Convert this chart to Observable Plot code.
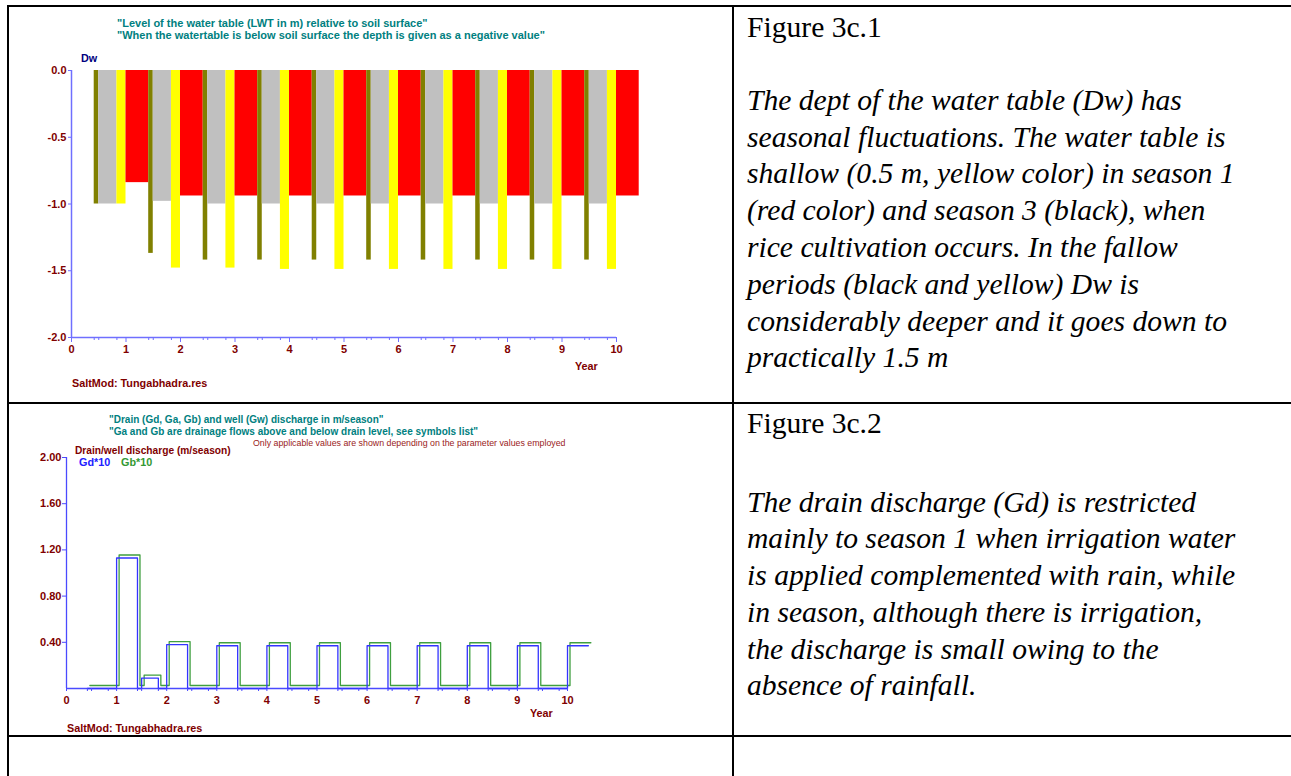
<!DOCTYPE html>
<html><head><meta charset="utf-8">
<script src="https://cdn.jsdelivr.net/npm/d3@7"></script>
<script src="https://cdn.jsdelivr.net/npm/@observablehq/plot@0.6"></script>
<style>
html,body{margin:0;padding:0;background:#fff;}
#page{position:relative;width:1291px;height:776px;overflow:hidden;background:#fff;}
.t{position:absolute;white-space:nowrap;line-height:1;transform:translateY(-50%);z-index:3;}
.lbl{font-family:"Liberation Sans",Arial,sans-serif;font-weight:bold;font-size:10.8px;}
.ttl{font-family:"Liberation Sans",Arial,sans-serif;font-weight:bold;font-size:11px;color:#008080;}
.note{font-family:"Liberation Sans",Arial,sans-serif;font-weight:normal;font-size:8.8px;color:#992222;}
.brd{position:absolute;background:#000;z-index:5;}
.serif{position:absolute;white-space:nowrap;font-family:"Liberation Serif","Times New Roman",serif;color:#000;font-size:29.6px;line-height:36.8px;z-index:3;}
.chart{position:absolute;left:0;width:730px;z-index:1;}
</style></head><body><div id="page"></div>
<script>
// ---------- data ----------
const years = [0, 1, 2, 3, 4, 5, 6, 7, 8, 9, 10];
const seasonMonths = [5, 1, 4, 2];
const seasonNames = ["Season 1", "Season 2", "Season 3", "Season 4"];
const seasonColors = ["#ff0000", "#808000", "#c0c0c0", "#ffff00"];

// Depth of water table Dw (m), per season, per year
const dwSeason1 = [null, -0.84, -0.94, -0.94, -0.94, -0.94, -0.94, -0.94, -0.94, -0.94, -0.94];
const dwSeason2 = [-1.00, -1.37, -1.42, -1.42, -1.42, -1.42, -1.42, -1.42, -1.42, -1.42, null];
const dwSeason3 = [-1.00, -0.98, -1.00, -1.00, -1.00, -1.00, -1.00, -1.00, -1.00, -1.00, null];
const dwSeason4 = [-1.00, -1.48, -1.48, -1.49, -1.49, -1.49, -1.49, -1.49, -1.49, -1.49, null];

// Drain discharge Gd*10 and Gb*10 (m/season), per season, per year
const gdSeason1 = [null, 1.13, 0.38, 0.37, 0.37, 0.37, 0.37, 0.37, 0.37, 0.37, 0.37];
const gdSeason2 = [0, 0, 0, 0, 0, 0, 0, 0, 0, 0, null];
const gdSeason3 = [0, 0.09, 0, 0, 0, 0, 0, 0, 0, 0, null];
const gdSeason4 = [0, 0, 0, 0, 0, 0, 0, 0, 0, 0, null];
const gbSeason1 = [null, 1.13, 0.38, 0.37, 0.37, 0.37, 0.37, 0.37, 0.37, 0.37, 0.37];
const gbSeason2 = [0, 0, 0, 0, 0, 0, 0, 0, 0, 0, null];
const gbSeason3 = [0, 0.09, 0, 0, 0, 0, 0, 0, 0, 0, null];
const gbSeason4 = [0, 0, 0, 0, 0, 0, 0, 0, 0, 0, null];

const yearTicks = [0, 1, 2, 3, 4, 5, 6, 7, 8, 9, 10];
const dwTicks = [0, -0.5, -1.0, -1.5, -2.0];
const gTicks = [0.40, 0.80, 1.20, 1.60, 2.00];

// ---------- derived tables ----------
const cum = [0];
seasonMonths.forEach(m => cum.push(cum[cum.length - 1] + m));
const sStart = cum.slice(0, 4).map(m => m / 12);
const sEnd = cum.slice(1).map(m => m / 12);

function seasonRows(series) {
  const rows = [];
  years.forEach((yr, i) => {
    series.forEach((arr, s) => {
      const v = arr[i];
      if (v !== null && v !== undefined) rows.push({x1: yr + sStart[s], x2: yr + sEnd[s], v, season: seasonNames[s]});
    });
  });
  return rows;
}
const dwRows = seasonRows([dwSeason1, dwSeason2, dwSeason3, dwSeason4]);
function stepPoints(series) {
  const rows = seasonRows(series);
  const pts = rows.map(r => ({t: r.x1, v: r.v}));
  const last = rows[rows.length - 1];
  pts.push({t: last.x2, v: last.v});
  return pts;
}
const gdPts = stepPoints([gdSeason1, gdSeason2, gdSeason3, gdSeason4]);
const gbPts = stepPoints([gbSeason1, gbSeason2, gbSeason3, gbSeason4]);
const minorTicks = [];
years.slice(0, 10).forEach(yr => sStart.slice(1).forEach(s => minorTicks.push(yr + s)));

// ---------- charts ----------
const axis1 = "#6f6fff";
const axis2 = "#4a4aff";
const tickText = "#800000";
const font = {background: "transparent", fontFamily: "'Liberation Sans', Arial, sans-serif", fontSize: "11px", fontWeight: "bold", overflow: "visible"};

const chart1 = Plot.plot({
  width: 730, height: 400,
  marginLeft: 71, marginRight: 114, marginTop: 70, marginBottom: 63,
  style: font,
  x: {domain: [0, 10], label: null},
  y: {domain: [-2, 0], label: null},
  color: {domain: seasonNames, range: seasonColors},
  marks: [
    Plot.rect(dwRows, {x1: "x1", x2: "x2", y1: d => 0, y2: "v", fill: "season"}),
    Plot.ruleX([0], {stroke: axis1, strokeWidth: 1.5}),
    Plot.ruleY([-2], {stroke: axis1, strokeWidth: 1.5}),
    Plot.axisY({ticks: dwTicks, tickFormat: d => d.toFixed(1), tickSize: 3, tickPadding: 2, stroke: axis1, fill: tickText, label: null}),
    Plot.axisX({ticks: yearTicks, tickFormat: d => String(d), tickSize: 5, tickPadding: 3, stroke: axis1, fill: tickText, label: null}),
    Plot.axisX({ticks: minorTicks, tickFormat: () => "", tickSize: 3, stroke: axis1, label: null})
  ]
});

const chart2 = Plot.plot({
  width: 730, height: 332,
  marginLeft: 66, marginRight: 163, marginTop: 53, marginBottom: 48,
  style: font,
  x: {domain: [0, 10], label: null},
  y: {domain: [0, 2], label: null},
  marks: [
    Plot.ruleX([0], {stroke: axis2, strokeWidth: 1.3}),
    Plot.ruleY([0], {stroke: axis2, strokeWidth: 1.3}),
    Plot.line(gbPts, {x: "t", y: "v", curve: "step-after", stroke: "#3f9f3f", strokeWidth: 1.3, dx: 2.5, dy: -3}),
    Plot.line(gdPts, {x: "t", y: "v", curve: "step-after", stroke: "#3434ff", strokeWidth: 1.3}),
    Plot.axisY({ticks: gTicks, tickFormat: d => d.toFixed(2), tickSize: 4, tickPadding: 1, stroke: axis2, fill: tickText, label: null}),
    Plot.axisX({ticks: yearTicks, tickFormat: d => String(d), tickSize: 3, tickPadding: 5, stroke: axis2, fill: tickText, label: null}),
    Plot.axisX({ticks: minorTicks, tickFormat: () => "", tickSize: 3, stroke: axis2, label: null})
  ]
});

// ---------- layout ----------
const page = document.getElementById("page");
function box(el, top) { const d = document.createElement("div"); d.className = "chart"; d.style.top = top + "px"; d.appendChild(el); page.appendChild(d); }
box(chart1, 0);
box(chart2, 404);

function txt(s, x, cy, cls, color, size) {
  const d = document.createElement("div");
  d.className = "t " + cls; d.textContent = s;
  d.style.left = x + "px"; d.style.top = cy + "px";
  if (color) d.style.color = color;
  if (size) d.style.fontSize = size + "px";
  page.appendChild(d);
}
// chart 1 annotations
txt('"Level of the water table (LWT in m) relative to soil surface"', 117, 23, "ttl");
txt('"When the watertable is below soil surface the depth is given as a negative value"', 117, 35, "ttl");
txt("Dw", 81, 58, "lbl", "#000080");
txt("Year", 575, 366, "lbl", "#800000");
txt("SaltMod: Tungabhadra.res", 72, 383, "lbl", "#800000");
// chart 2 annotations
txt('"Drain (Gd, Ga, Gb) and well (Gw) discharge in m/season"', 109, 420, "ttl", null, 10);
txt('"Ga and Gb are drainage flows above and below drain level, see symbols list"', 109, 432, "ttl", null, 10);
txt("Only applicable values are shown depending on the parameter values employed", 253, 443, "note");
txt("Drain/well discharge (m/season)", 75, 451, "lbl", "#800000", 10.2);
txt("Gd*10", 79, 462, "lbl", "#2020ff");
txt("Gb*10", 121, 462, "lbl", "#339933");
txt("Year", 530, 713, "lbl", "#800000");
txt("SaltMod: Tungabhadra.res", 67, 728, "lbl", "#800000");

// right column text
function serif(html, top) {
  const d = document.createElement("div");
  d.className = "serif"; d.innerHTML = html;
  d.style.left = "747px"; d.style.top = top + "px";
  page.appendChild(d);
}
serif("Figure 3c.1", 8.5);
serif("<i>The dept of the water table (Dw) has<br>seasonal fluctuations. The water table is<br>shallow (0.5 m, yellow color) in season 1<br>(red color) and season 3 (black), when<br>rice cultivation occurs. In the fallow<br>periods (black and yellow) Dw is<br>considerably deeper and it goes down to<br>practically 1.5 m</i>", 81.8);
serif("Figure 3c.2", 404.5);
serif("<i>The drain discharge (Gd) is restricted<br>mainly to season 1 when irrigation water<br>is applied complemented with rain, while<br>in season, although there is irrigation,<br>the discharge is small owing to the<br>absence of rainfall.</i>", 483.5);

// table borders
function brd(l, t, w, h) { const d = document.createElement("div"); d.className = "brd"; Object.assign(d.style, {left: l + "px", top: t + "px", width: w + "px", height: h + "px"}); page.appendChild(d); }
brd(7, 5, 1284, 2);
brd(7, 5, 2, 771);
brd(732, 5, 2, 771);
brd(7, 402, 1284, 2);
brd(7, 735, 1284, 2);
</script>
</body></html>
